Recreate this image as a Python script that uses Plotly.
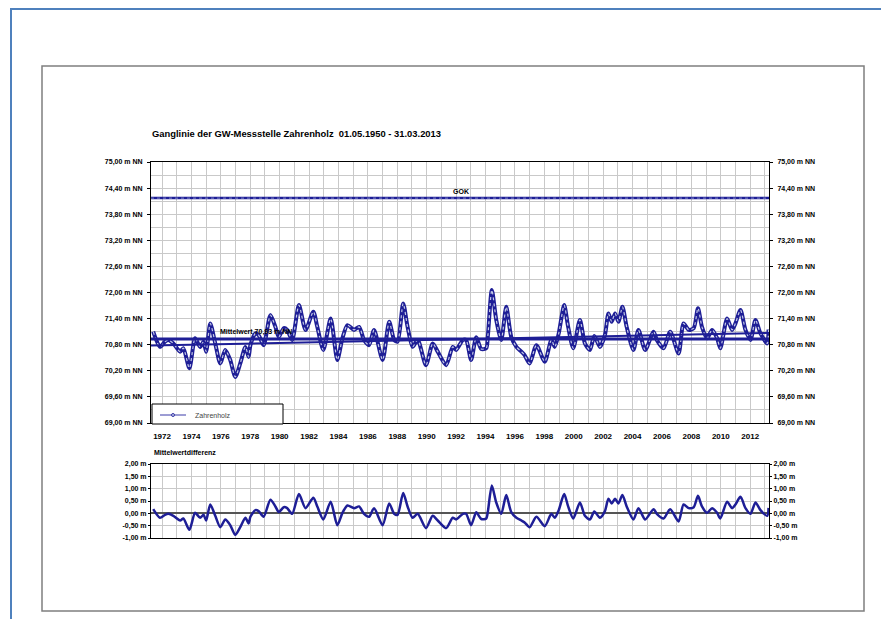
import plotly.graph_objects as go

# ---------------- data ----------------
years = [1971.40, 1971.86, 1972.20, 1972.43, 1972.77, 1973.23, 1973.45, 1973.86, 1974.25, 1974.59,
         1974.82, 1975.00, 1975.28, 1975.62, 1975.96, 1976.30, 1976.64, 1976.98, 1977.32, 1977.67,
         1977.89, 1978.01, 1978.35, 1978.57, 1978.91, 1979.37, 1979.71, 1979.94, 1980.28, 1980.51,
         1980.85, 1981.31, 1981.76, 1982.29, 1982.56, 1982.97, 1983.47, 1983.92, 1984.27, 1984.61,
         1985.06, 1985.40, 1985.74, 1986.08, 1986.42, 1987.00, 1987.45, 1987.79, 1988.02, 1988.40,
         1988.70, 1989.04, 1989.39, 1989.95, 1990.41, 1990.75, 1991.32, 1991.77, 1992.00, 1992.46,
         1992.68, 1993.02, 1993.37, 1993.71, 1994.05, 1994.16, 1994.43, 1994.73, 1995.07, 1995.41,
         1995.75, 1996.10, 1996.44, 1996.66, 1997.00, 1997.46, 1998.03, 1998.48, 1998.71, 1998.98,
         1999.35, 1999.62, 1999.97, 2000.42, 2000.76, 2001.10, 2001.40, 2001.78, 2002.12, 2002.36,
         2002.58, 2002.81, 2003.04, 2003.31, 2003.60, 2004.06, 2004.40, 2004.86, 2005.43, 2005.65,
         2006.11, 2006.56, 2007.13, 2007.47, 2007.82, 2008.16, 2008.45, 2008.72, 2009.07, 2009.41,
         2009.75, 2009.97, 2010.43, 2010.77, 2011.00, 2011.34, 2011.68, 2012.02, 2012.36, 2012.70,
         2013.16, 2013.25]
levels = [71.10, 70.75, 70.87, 70.91, 70.83, 70.64, 70.72, 70.26, 70.95, 70.75,
          70.87, 70.64, 71.29, 70.83, 70.37, 70.68, 70.45, 70.06, 70.37, 70.75,
          70.52, 70.79, 71.06, 71.02, 70.79, 71.48, 71.21, 70.98, 71.18, 71.14,
          70.91, 71.71, 71.14, 71.56, 71.21, 70.68, 71.40, 70.45, 70.95, 71.25,
          71.14, 71.21, 70.91, 70.79, 71.14, 70.45, 71.33, 70.91, 70.87, 71.75,
          71.21, 70.75, 70.91, 70.33, 70.83, 70.64, 70.33, 70.75, 70.68, 70.91,
          70.91, 70.45, 70.97, 70.70, 70.72, 71.00, 72.06, 71.37, 70.91, 71.67,
          70.98, 70.75, 70.64, 70.56, 70.37, 70.79, 70.41, 70.91, 70.75, 71.06,
          71.71, 71.21, 70.72, 71.37, 70.83, 70.68, 71.00, 70.75, 71.02, 71.52,
          71.33, 71.52, 71.33, 71.67, 71.21, 70.68, 71.14, 70.68, 71.10, 70.91,
          70.72, 71.10, 70.60, 71.29, 71.14, 71.18, 71.64, 71.21, 70.95, 71.14,
          70.95, 70.72, 71.40, 71.14, 71.29, 71.60, 71.14, 70.91, 71.37, 71.06,
          70.83, 71.15]

MEAN = 70.93            # Mittelwert
GOK = 74.17             # Geländeoberkante
trend_years = [1971.25, 2013.28]
trend_levels = [70.78, 71.07]
span_years = [1971.25, 2013.28]

main_ticks = [69.0, 69.6, 70.2, 70.8, 71.4, 72.0, 72.6, 73.2, 73.8, 74.4, 75.0]
main_tick_labels = ["69,00 m NN", "69,60 m NN", "70,20 m NN", "70,80 m NN", "71,40 m NN",
                    "72,00 m NN", "72,60 m NN", "73,20 m NN", "73,80 m NN", "74,40 m NN",
                    "75,00 m NN"]
diff_ticks = [-1.0, -0.5, 0.0, 0.5, 1.0, 1.5, 2.0]
diff_tick_labels = ["-1,00 m", "-0,50 m", "0,00 m", "0,50 m", "1,00 m", "1,50 m", "2,00 m"]
year_ticks = list(range(1972, 2013, 2))

diffs = [round(v - MEAN, 3) for v in levels]

# ---------------- layout helpers ----------------
# page body has an 8px margin: the figure is placed at (8, 8)
OFF = 8
W, H = 881, 611
def px(x):
    return (x - OFF) / W
def py(y):
    return 1 - (y - OFF) / H

NAVY = "#1e1e96"
GRID = "#c9c9c9"
NARROW = "Liberation Sans Narrow, Liberation Sans, Arial"
WIDE = "Liberation Sans, Arial"
bold = dict(family=NARROW, size=7, color="#000", weight="bold")
boldw = dict(family=WIDE, size=8, color="#000", weight="bold")

fig = go.Figure()

fig.add_trace(go.Scatter(x=years, y=levels, mode="lines",
                         line=dict(color=NAVY, width=4, shape="spline", smoothing=0.7),
                         hoverinfo="skip", showlegend=False))
fig.add_trace(go.Scatter(x=years, y=levels, mode="lines",
                         line=dict(color="#c3c9e6", width=1.2, dash="dot", shape="spline", smoothing=0.7),
                         name="Zahrenholz", showlegend=False))
fig.add_trace(go.Scatter(x=span_years, y=[MEAN, MEAN], mode="lines",
                         line=dict(color=NAVY, width=3), hoverinfo="skip", showlegend=False))
fig.add_trace(go.Scatter(x=trend_years, y=trend_levels, mode="lines",
                         line=dict(color=NAVY, width=2), hoverinfo="skip", showlegend=False))
fig.add_trace(go.Scatter(x=span_years, y=[GOK, GOK], mode="lines",
                         line=dict(color=NAVY, width=2.5), hoverinfo="skip", showlegend=False))
fig.add_trace(go.Scatter(x=span_years, y=[GOK, GOK], mode="lines",
                         line=dict(color="#9aa3d6", width=0.8, dash="dot"), hoverinfo="skip", showlegend=False))
fig.add_trace(go.Scatter(x=span_years, y=[MEAN, MEAN], mode="lines", yaxis="y3",
                         line=dict(color="rgba(0,0,0,0)"), hoverinfo="skip", showlegend=False))

fig.add_trace(go.Scatter(x=years, y=diffs, mode="lines", xaxis="x2", yaxis="y2",
                         line=dict(color=NAVY, width=2.5, shape="spline", smoothing=0.7),
                         name="Mittelwertdifferenz", showlegend=False))
fig.add_trace(go.Scatter(x=span_years, y=[0, 0], mode="lines", xaxis="x2", yaxis="y4",
                         line=dict(color="rgba(0,0,0,0)"), hoverinfo="skip", showlegend=False))

xdom = [px(151), px(769)]
main_ydom = [py(423), py(162)]
low_ydom = [py(538), py(464)]
xr = [1971.25, 2013.28]

common_x = dict(range=xr, showline=True, linecolor="#000", linewidth=1, mirror=True,
                showgrid=True, gridcolor=GRID, gridwidth=1, zeroline=False, automargin=False,
                minor=dict(dtick=1, showgrid=True, gridcolor=GRID, gridwidth=1))

main_y_common = dict(range=[69, 75], tickmode="array", tickvals=main_ticks, ticktext=main_tick_labels,
                     tickfont=bold, ticks="outside", ticklen=3, tickcolor="#000",
                     ticklabelstandoff=3, zeroline=False, automargin=False)
diff_y_common = dict(range=[-1, 2], tickmode="array", tickvals=diff_ticks, ticktext=diff_tick_labels,
                     tickfont=bold, ticks="outside", ticklen=2, tickcolor="#000", automargin=False)

fig.update_layout(
    width=W, height=H,
    margin=dict(l=0, r=0, t=0, b=0),
    paper_bgcolor="white", plot_bgcolor="white",
    showlegend=False,
    xaxis=dict(domain=xdom, anchor="y", tickmode="array", tickvals=year_ticks,
               ticktext=[str(v) for v in year_ticks], ticks="", tickfont=boldw,
               ticklabelstandoff=5, **common_x),
    yaxis=dict(domain=main_ydom, anchor="x", showline=True, linecolor="#000", mirror=True,
               showgrid=True, gridcolor=GRID,
               minor=dict(dtick=0.3, tick0=69, showgrid=True, gridcolor=GRID), **main_y_common),
    yaxis3=dict(overlaying="y", side="right", anchor="x", showgrid=False, **main_y_common),
    xaxis2=dict(domain=xdom, anchor="y2", showticklabels=False, ticks="", dtick=2, tick0=1972,
                **common_x),
    yaxis2=dict(domain=low_ydom, anchor="x2", showline=True, linecolor="#000", mirror=True,
                showgrid=True, gridcolor=GRID, zeroline=True, zerolinecolor="#555",
                zerolinewidth=1.5, **diff_y_common),
    yaxis4=dict(overlaying="y2", side="right", anchor="x2", showgrid=False, zeroline=False,
                **diff_y_common),
)

shapes = [
    dict(type="rect", xref="paper", yref="paper", x0=px(11), x1=px(887), y0=-0.02, y1=py(9),
         line=dict(color="#4f81bd", width=2), layer="below"),
    dict(type="rect", xref="paper", yref="paper", x0=px(42), x1=px(864), y0=py(611), y1=py(66),
         line=dict(color="#7f7f7f", width=1.5), layer="below"),
    dict(type="rect", xref="paper", yref="paper", x0=px(152), x1=px(283), y0=py(424), y1=py(404),
         line=dict(color="#000", width=1), fillcolor="white", layer="above"),
    dict(type="line", xref="paper", yref="paper", x0=px(160), x1=px(186), y0=py(415), y1=py(415),
         line=dict(color="#3a3aa8", width=1), layer="above"),
    dict(type="circle", xref="paper", yref="paper", x0=px(171.5), x1=px(174.5), y0=py(416.5),
         y1=py(413.5), line=dict(color="#3a3aa8", width=1), fillcolor="#c3c9e6", layer="above"),
]
fig.update_layout(shapes=shapes)

annotations = [
    dict(xref="paper", yref="paper", x=px(150), y=py(133), xanchor="left", yanchor="middle",
         text="Ganglinie der GW-Messstelle Zahrenholz  01.05.1950 - 31.03.2013", showarrow=False,
         font=dict(boldw, size=9.4)),
    dict(xref="paper", yref="paper", x=px(152), y=py(453), xanchor="left", yanchor="middle",
         text="Mittelwertdifferenz", showarrow=False, font=dict(boldw, size=7)),
    dict(xref="x", yref="y", x=1992.3, y=GOK, xanchor="center", yanchor="bottom", yshift=1,
         text="GOK", showarrow=False, font=dict(boldw, size=7)),
    dict(xref="x", yref="y", x=1975.8, y=MEAN, xanchor="left", yanchor="bottom", yshift=1,
         text="Mittelwert 70,93 m NN", showarrow=False, font=dict(boldw, size=7)),
    dict(xref="paper", yref="paper", x=px(193), y=py(415), xanchor="left", yanchor="middle",
         text="Zahrenholz", showarrow=False, font=dict(family=WIDE, size=7, color="#444")),
]
fig.update_layout(annotations=annotations)

fig.write_html("out.html")
